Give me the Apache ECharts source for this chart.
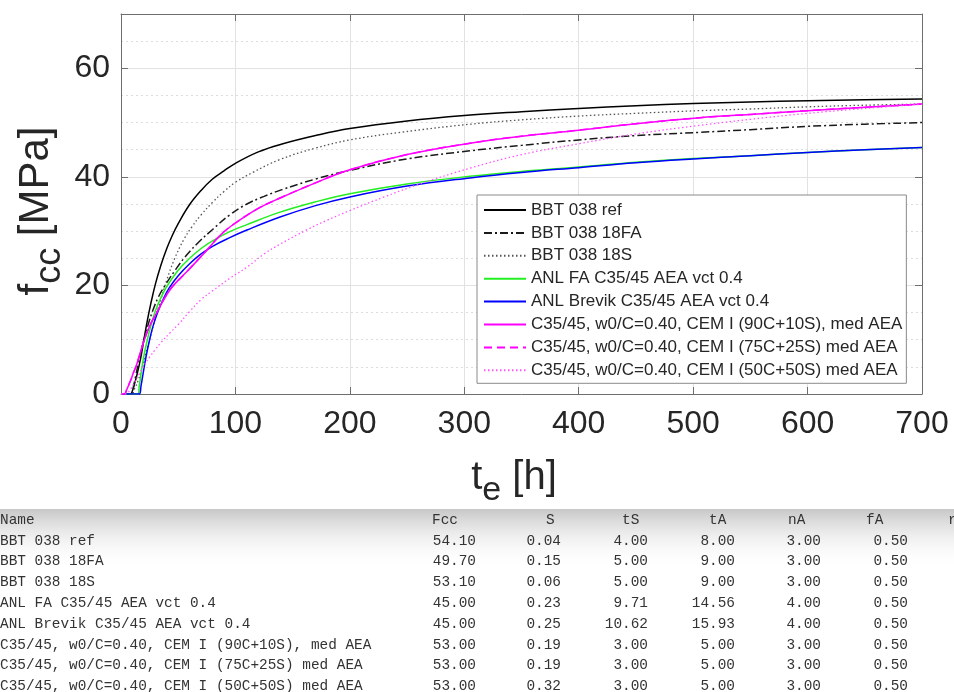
<!DOCTYPE html>
<html>
<head>
<meta charset="utf-8">
<script src="https://cdn.jsdelivr.net/npm/echarts@6/dist/echarts.min.js"></script>
<style>
html,body{margin:0;padding:0;background:#fff;}
#chart{width:954px;height:692px;}
</style>
</head>
<body>
<div id="chart"></div>
<script>
// ---- curve data: [te (h), fcc (MPa)] ----
const seriesNames = [
  'BBT 038 ref',
  'BBT 038 18FA',
  'BBT 038 18S',
  'ANL FA C35/45 AEA vct 0.4',
  'ANL Brevik C35/45 AEA vct 0.4',
  'C35/45, w0/C=0.40, CEM I (90C+10S), med AEA',
  'C35/45, w0/C=0.40, CEM I (75C+25S) med AEA',
  'C35/45, w0/C=0.40, CEM I (50C+50S) med AEA'
];
const bbtRef = [[0,0],[8,0],[10,0.6],[12,2],[14,3.6],[16,5.4],[18,7.5],[20,10],[23,13.5],[26,16.6],[30,20.2],[35,23.8],[40,26.8],[45,29.3],[50,31.4],[60,34.9],[70,37.5],[80,39.6],[90,41.1],[100,42.5],[120,44.6],[140,46],[170,47.6],[200,48.9],[250,50.3],[300,51.3],[350,52],[400,52.6],[450,53.1],[500,53.5],[550,53.8],[600,54],[650,54.2],[700,54.35]];
const bbt18FA = [[0,0],[9,0],[11,1.5],[13,3.5],[15,5.5],[17,7.5],[20,10],[24,13],[28,15.5],[33,18],[40,20.5],[48,23],[57,25.5],[68,28],[80,30.3],[95,33],[110,35],[125,36.4],[140,37.6],[170,39.6],[200,41.2],[250,43.3],[305,44.8],[350,45.8],[400,46.8],[450,47.6],[506,48.2],[550,48.7],[600,49.3],[650,49.7],[700,50]];
const bbt18S = [[0,0],[9,0],[12,1],[15,2.5],[18,4.5],[21,7],[25,10],[30,14],[35,17.5],[40,21],[47,25],[55,28.5],[62,30.8],[70,33],[80,35.3],[90,37.3],[100,39],[115,40.8],[139,43.2],[170,45.3],[200,46.8],[244,48.2],[305,49.7],[350,50.5],[400,51.2],[450,51.7],[506,52.2],[550,52.5],[600,52.9],[650,53.2],[700,53.4]];
const anlFA = [[0,0],[14.6,0],[16,1.5],[18,4.5],[20,7],[23,10],[26,12.5],[30,15.3],[35,17.8],[40,19.8],[50,22.8],[60,25],[70,26.8],[80,28.2],[95,29.9],[110,31.2],[139,33.5],[170,35.4],[200,36.9],[250,38.7],[305,40.1],[350,41],[400,41.8],[450,42.7],[500,43.4],[550,43.9],[600,44.5],[650,45],[700,45.4]];
const anlBrevik = [[0,0],[15.9,0],[17.5,1.5],[19.5,4],[22,7],[25,10],[28,12.5],[32,15],[37,17.5],[42,19.5],[50,21.8],[60,24],[70,25.8],[80,27.2],[95,28.8],[110,30.2],[139,32.6],[170,34.7],[200,36.3],[250,38.3],[305,39.8],[350,40.8],[400,41.7],[450,42.6],[500,43.3],[550,43.9],[600,44.5],[650,45],[700,45.4]];
const cem90 = [[0,0],[3,0],[5,0.8],[7,1.8],[9,2.8],[11,4],[13,5],[16,7],[20,9.7],[25,12.5],[30,14.5],[35,16.5],[40,18.3],[45,19.8],[55,22],[65,24.2],[75,26.5],[88,29.5],[100,31.5],[120,34.2],[139,36.1],[170,38.9],[200,41.3],[250,44.1],[305,46.2],[350,47.5],[400,48.6],[450,49.8],[506,50.9],[550,51.5],[600,52.2],[650,52.8],[700,53.4]];
const cem75 = [[0,0],[3,0],[5,0.8],[7,1.8],[9,2.8],[11,4],[13,5],[16,7],[20,9.7],[25,12.5],[30,14.5],[35,16.5],[40,18.3],[45,19.8],[55,22],[65,24.2],[75,26.5],[88,29.5],[100,31.5],[120,34.2],[139,36.1],[170,38.9],[200,41.3],[250,44.1],[305,46.2],[350,47.5],[400,48.6],[450,49.8],[506,50.9],[550,51.5],[600,52.2],[650,52.8],[700,53.4]];
const cem50 = [[0,0],[4,0],[8,0.8],[12,2.2],[16,3.7],[20,5.2],[25,6.8],[30,8.2],[35,9.5],[43,11.3],[50,12.8],[60,15.2],[70,17.4],[80,19],[95,21.3],[111,23.5],[125,25.8],[139,27.6],[162,30.2],[180,32],[200,33.8],[230,36.3],[260,38.6],[305,41.6],[350,44.1],[400,46.1],[450,47.9],[506,49.5],[550,50.6],[600,51.7],[650,52.6],[700,53.4]];

// ---- axis ticks and titles ----
const xTicks = [0,100,200,300,400,500,600,700];
const yTicks = [0,20,40,60];
const xTitle = ['t', 'e', ' [h]'];      // main, subscript, rest
const yTitle = ['f', 'cc', ' [MPa]'];

// ---- parameter table ----
const tableHeader = ['Name','Fcc','S','tS','tA','nA','fA','r'];
const tableNames = ['BBT 038 ref','BBT 038 18FA','BBT 038 18S','ANL FA C35/45 AEA vct 0.4','ANL Brevik C35/45 AEA vct 0.4','C35/45, w0/C=0.40, CEM I (90C+10S), med AEA','C35/45, w0/C=0.40, CEM I (75C+25S) med AEA','C35/45, w0/C=0.40, CEM I (50C+50S) med AEA'];
const colFcc = ['54.10','49.70','53.10','45.00','45.00','53.00','53.00','53.00'];
const colS   = ['0.04','0.15','0.06','0.23','0.25','0.19','0.19','0.32'];
const colTS  = ['4.00','5.00','5.00','9.71','10.62','3.00','3.00','3.00'];
const colTA  = ['8.00','9.00','9.00','14.56','15.93','5.00','5.00','5.00'];
const colNA  = ['3.00','3.00','3.00','4.00','4.00','3.00','3.00','3.00'];
const colFA  = ['0.50','0.50','0.50','0.50','0.50','0.50','0.50','0.50'];

const FONT = 'Liberation Sans';
const MONO = 'Liberation Mono';
const TXT = '#262626';
const AX = '#6e6e6e';

const curveData = [bbtRef, bbt18FA, bbt18S, anlFA, anlBrevik, cem90, cem75, cem50];
const curveStyle = [
  {color:'#000000', type:'solid', width:1.5},
  {color:'#1a1a1a', type:[8,3,2,3], width:1.5},
  {color:'#555555', type:[1.5,2.5], width:1.3},
  {color:'#22ee22', type:'solid', width:1.5},
  {color:'#0000ff', type:'solid', width:1.5},
  {color:'#ff00ff', type:'solid', width:1.5},
  {color:'#ff00ff', type:[8,5], width:1.5},
  {color:'#ff55ff', type:[1.5,2.5], width:1.3}
];

const series = curveData.map((d,i)=>({
  name: seriesNames[i],
  type: 'line',
  data: d,
  symbol: 'none',
  smooth: 0.4,
  clip: true,
  xAxisIndex: 0, yAxisIndex: 0,
  lineStyle: curveStyle[i],
  itemStyle: {color: curveStyle[i].color},
  z: 2 + i,
  animation: false
}));

// text measuring helper (layout only)
const mctx = document.createElement('canvas').getContext('2d');
function tw(text, size){ mctx.font = size + 'px "' + FONT + '"'; return mctx.measureText(text).width; }

const graphics = [];
// ---- x axis title: t_e [h] ----
(function(){
  const M = 40, S = 34, cx = 514, midMain = 478, subDrop = 13;
  const w0 = tw(xTitle[0], M), w1 = tw(xTitle[1], S), w2 = tw(xTitle[2], M);
  const x0 = cx - (w0 + w1 + w2) / 2;
  graphics.push({type:'text', z:10, x:x0, y:midMain, style:{text:xTitle[0], font:M+'px "'+FONT+'"', fill:TXT, textAlign:'left', textVerticalAlign:'middle'}});
  graphics.push({type:'text', z:10, x:x0+w0, y:midMain+subDrop, style:{text:xTitle[1], font:S+'px "'+FONT+'"', fill:TXT, textAlign:'left', textVerticalAlign:'middle'}});
  graphics.push({type:'text', z:10, x:x0+w0+w1, y:midMain, style:{text:xTitle[2], font:M+'px "'+FONT+'"', fill:TXT, textAlign:'left', textVerticalAlign:'middle'}});
})();
// ---- y axis title: f_cc [MPa] (rotated) ----
(function(){
  const M = 42, S = 36, cy = 211, midMain = 36, subDrop = 14;
  const w0 = tw(yTitle[0], M), w1 = tw(yTitle[1], S), w2 = tw(yTitle[2], M);
  const y0 = cy + (w0 + w1 + w2) / 2;
  const rot = Math.PI / 2;
  graphics.push({type:'text', z:10, x:midMain, y:y0, rotation:rot, style:{text:yTitle[0], font:M+'px "'+FONT+'"', fill:TXT, textAlign:'left', textVerticalAlign:'middle'}});
  graphics.push({type:'text', z:10, x:midMain+subDrop, y:y0-w0, rotation:rot, style:{text:yTitle[1], font:S+'px "'+FONT+'"', fill:TXT, textAlign:'left', textVerticalAlign:'middle'}});
  graphics.push({type:'text', z:10, x:midMain, y:y0-w0-w1, rotation:rot, style:{text:yTitle[2], font:M+'px "'+FONT+'"', fill:TXT, textAlign:'left', textVerticalAlign:'middle'}});
})();

// ---- table ----
graphics.push({
  type:'rect', left:0, top:509, z:0,
  shape:{x:0,y:0,width:954,height:60},
  style:{fill:new echarts.graphic.LinearGradient(0,0,0,1,[{offset:0,color:'rgba(175,175,175,0.7)'},{offset:1,color:'rgba(255,255,255,0)'}])}
});
const rowY0 = 520, rowDY = 20.8;
const colRight = [476, 561, 648, 735, 821, 908];
const headerLeft = [0, 432, 546, 622, 709, 788, 866, 948];
const tfont = '14.4px "'+MONO+'"';
tableHeader.forEach((h,i)=>{
  graphics.push({type:'text', z:5, style:{text:h, x:headerLeft[i], y:rowY0, fill:'#333', font:tfont, textVerticalAlign:'middle', textAlign:'left'}});
});
const cols = [colFcc,colS,colTS,colTA,colNA,colFA];
tableNames.forEach((n,r)=>{
  const y = rowY0 + (r+1)*rowDY;
  graphics.push({type:'text', z:5, style:{text:n, x:0, y:y, fill:'#333', font:tfont, textVerticalAlign:'middle', textAlign:'left'}});
  cols.forEach((c,j)=>{
    graphics.push({type:'text', z:5, style:{text:c[r], x:colRight[j], y:y, fill:'#333', font:tfont, textVerticalAlign:'middle', textAlign:'right'}});
  });
});

const chart = echarts.init(document.getElementById('chart'), null, {renderer:'canvas'});
chart.setOption({
  animation: false,
  backgroundColor: '#ffffff',
  grid: {left:121, top:14, width:801, height:380, containLabel:false},
  legend: {
    data: seriesNames,
    orient: 'vertical',
    left: 477, top: 195,
    itemWidth: 42, itemHeight: 12, itemGap: 2.9, itemTextGap: 4,
    padding: [5,4,3,6],
    borderColor: '#8a8a8a', borderWidth: 1, borderRadius: 0,
    backgroundColor: '#ffffff',
    itemStyle: {opacity: 0, borderWidth: 0},
    textStyle: {fontFamily: FONT, fontSize: 17, color: TXT, lineHeight: 20},
    selectedMode: false,
    z: 20
  },
  xAxis: [{
    type:'value', min:0, max:700, interval:100, position:'bottom',
    axisLine:{show:true, onZero:false, lineStyle:{color:AX, width:1}},
    axisTick:{show:true, inside:true, length:7, lineStyle:{color:AX}},
    axisLabel:{fontFamily:FONT, fontSize:32, color:TXT, margin:14, formatter: v => xTicks.includes(v) ? String(v) : ''},
    splitLine:{show:true, lineStyle:{color:'#e2e2e2', width:1}}
  },{
    type:'value', min:0, max:700, interval:100, position:'top',
    axisLine:{show:true, onZero:false, lineStyle:{color:AX, width:1}},
    axisTick:{show:true, inside:true, length:7, lineStyle:{color:AX}},
    axisLabel:{show:false}, splitLine:{show:false}
  }],
  yAxis: [{
    type:'value', min:0, max:70, interval:20, position:'left',
    axisLine:{show:true, onZero:false, lineStyle:{color:AX, width:1}},
    axisTick:{show:true, inside:true, length:7, lineStyle:{color:AX}},
    axisLabel:{fontFamily:FONT, fontSize:32, color:TXT, margin:11, showMaxLabel:false, formatter: v => yTicks.includes(v) ? String(v) : ''},
    splitLine:{show:true, lineStyle:{color:'#e2e2e2', width:1}},
    minorTick:{show:false, splitNumber:4},
    minorSplitLine:{show:true, lineStyle:{color:'#dcdcdc', width:1, type:[2,3]}}
  },{
    type:'value', min:0, max:70, interval:20, position:'right',
    axisLine:{show:true, onZero:false, lineStyle:{color:AX, width:1}},
    axisTick:{show:true, inside:true, length:7, lineStyle:{color:AX}},
    axisLabel:{show:false}, splitLine:{show:false}
  }],
  series: series,
  graphic: graphics
});
</script>
</body>
</html>
